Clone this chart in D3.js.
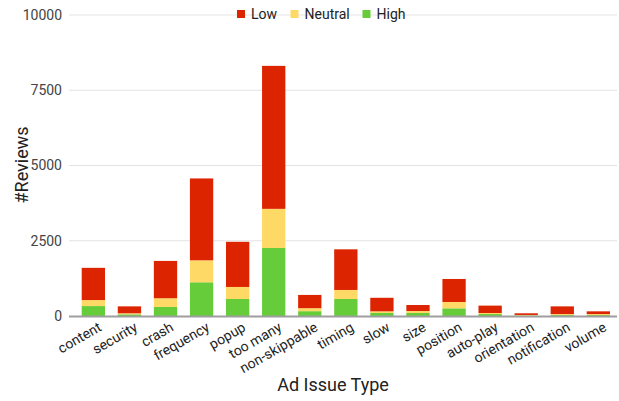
<!DOCTYPE html>
<html><head><meta charset="utf-8">
<script src="https://cdn.jsdelivr.net/npm/d3@7"></script>
<style>body{margin:0;background:#fff}svg{display:block;font-family:Roboto,sans-serif}</style>
</head><body><svg id="c" width="619" height="401"></svg>
<script>
const categories = ["content","security","crash","frequency","popup","too many","non-skippable","timing","slow","size","position","auto-play","orientation","notification","volume"];
const high    = [330, 55, 300, 1120, 565, 2260, 160, 565, 100, 100, 255, 65, 15, 30, 30];
const neutral = [200, 35, 290, 730, 400, 1300, 100, 300, 55, 65, 210, 35, 20, 35, 35];
const low     = [1070, 230, 1240, 2720, 1500, 4750, 440, 1350, 450, 200, 765, 245, 55, 255, 90];
const yTicks = [0, 2500, 5000, 7500, 10000];
const seriesNames = ["High","Neutral","Low"];
const colors = {Low:"#dc2400", Neutral:"#ffd966", High:"#66cc3a"};

const svg = d3.select("#c");
const x = d3.scaleBand().domain(categories).range([75.5, 616.2]).paddingInner(0.354).paddingOuter(0.172);
const y = d3.scaleLinear().domain([0, 10000]).range([316, 15]);

// gridlines
svg.append("g").selectAll("line").data(yTicks.filter(d=>d>0)).join("line")
  .attr("x1", 69).attr("x2", 617).attr("y1", d=>y(d)).attr("y2", d=>y(d))
  .attr("stroke", "#e3e3e3").attr("stroke-width", 1);

const yAxis = d3.axisLeft(y).tickValues(yTicks).tickSize(0).tickPadding(7).tickFormat(d3.format("d"));
const ga = svg.append("g").attr("transform","translate(69,0)").call(yAxis);
ga.select(".domain").remove();
ga.selectAll("text").attr("font-size", 14).attr("fill", "#444").attr("font-family","Roboto");

const rows = categories.map((c,i)=>({cat:c, High:high[i], Neutral:neutral[i], Low:low[i]}));
const stack = d3.stack().keys(seriesNames)(rows);
svg.append("g").selectAll("g").data(stack).join("g")
  .attr("fill", d=>colors[d.key])
  .selectAll("rect").data(d=>d).join("rect")
  .attr("x", d=>x(d.data.cat)).attr("width", x.bandwidth())
  .attr("y", d=>y(d[1])).attr("height", d=>y(d[0])-y(d[1]));

// baseline
svg.append("line").attr("x1",69).attr("x2",617).attr("y1",y(0)+0.5).attr("y2",y(0)+0.5)
  .attr("stroke","#9e9e9e").attr("stroke-width",2);

// x labels
const xAxis = d3.axisBottom(x).tickSize(0).tickPadding(0);
const gx = svg.append("g").attr("transform",`translate(0,${y(0)})`).call(xAxis);
gx.select(".domain").remove();
gx.selectAll("text").attr("font-size",14).attr("fill","#222").attr("font-family","Roboto")
  .attr("text-anchor","end").attr("dy",0)
  .attr("transform","translate(9,14) rotate(-30)");

// axis titles
svg.append("text").attr("x", 333).attr("y", 391).attr("text-anchor","middle")
  .attr("font-size",18).attr("fill","#222").text("Ad Issue Type");
svg.append("text").attr("transform","translate(28,165) rotate(-90)").attr("text-anchor","middle")
  .attr("font-size",18).attr("fill","#222").text("#Reviews");

// legend
const legendNames = ["Low","Neutral","High"];
const lx = [237, 290.5, 362.5];
const lg = svg.append("g").selectAll("g").data(legendNames).join("g")
  .attr("transform",(d,i)=>`translate(${lx[i]},10)`);
lg.append("rect").attr("width",8).attr("height",8).attr("fill",d=>colors[d]);
lg.append("text").attr("x",14).attr("y",9).attr("font-size",14).attr("fill","#222").text(d=>d);
</script></body></html>
